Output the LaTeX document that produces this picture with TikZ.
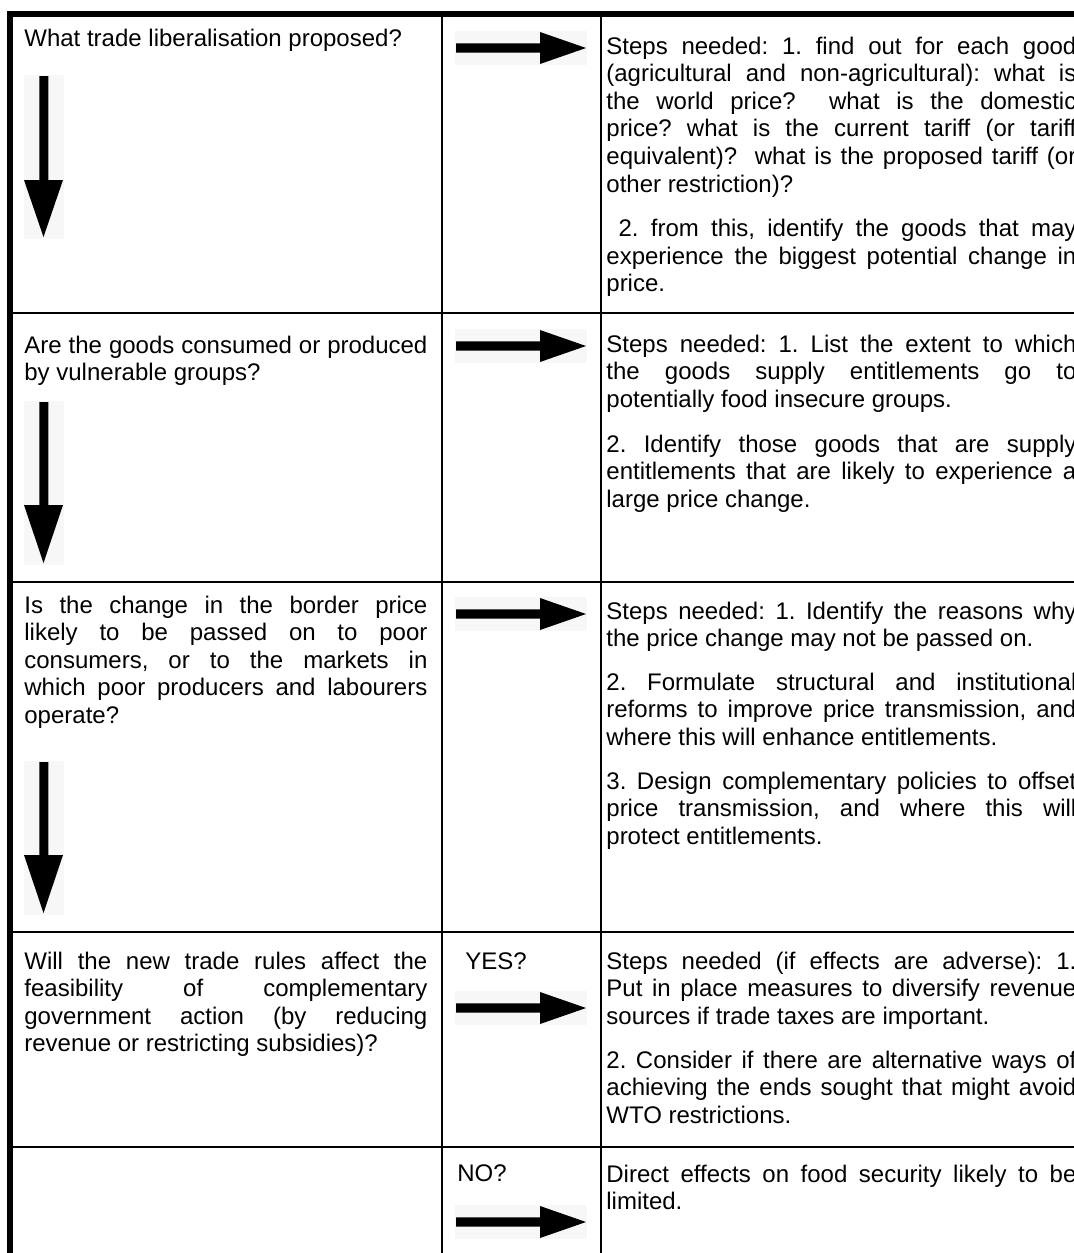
\documentclass[tikz,border=0pt]{standalone}
\usepackage{fontspec}
\setmainfont{Liberation Sans}
\newcommand\jl[1]{\makebox[\linewidth][s]{#1}\par}
\newcommand\lastline[1]{#1\par}
\newcommand\colA[1]{\begin{minipage}[t]{201.5pt}#1\end{minipage}}
\newcommand\colC[1]{\begin{minipage}[t]{235pt}#1\end{minipage}}
\begin{document}
\begin{tikzpicture}[x=0.5pt,y=-0.5pt,
  txt/.style={inner sep=0pt, anchor=base west, font=\fontsize{12}{13.8}\selectfont\frenchspacing},
  border/.style={line width=3pt, line join=miter},
  rule/.style={line width=1pt},
  arrbg/.style={fill=black!3},
  harrow/.pic={
    \fill[arrbg] (-66,-17) rectangle (66,17);
    \fill[black] (-65,-4.7) -- (19,-4.7) -- (19,-16) -- (65,0) -- (19,16) -- (19,4.7) -- (-65,4.7) -- cycle;
  }]
\newcommand\dnarr[3]{%
  \fill[arrbg] (23.5,#1-1) rectangle (63.5,#3+2);
  \fill[black] (39.3,#1) -- (48.3,#1) -- (48.3,#2) -- (63,#2) -- (43.5,#3) -- (24,#2) -- (39.3,#2) -- cycle;}
\useasboundingbox (0,0) rectangle (1074,1253);
\clip (0,0) rectangle (1074,1253);
\fill[white] (0,0) rectangle (1074,1253);

% table rules
\draw[rule] (10,313) -- (1074,313);
\draw[rule] (10,582) -- (1074,582);
\draw[rule] (10,932) -- (1074,932);
\draw[rule] (10,1147) -- (1074,1147);
\draw[rule] (442,14) -- (442,1253);
\draw[rule] (601,14) -- (601,1253);
\draw[border] (10.3,1260) -- (10.3,13.8) -- (1080,13.8);

% down arrows in first column
\dnarr{76}{180}{237}
\dnarr{402}{505}{563}
\dnarr{762}{855}{913}

% right arrows in middle column
\pic (h1) at (521,48) {harrow};
\pic (h2) at (521,346) {harrow};
\pic (h3) at (521,614) {harrow};
\pic (h4) at (521,1008) {harrow};
\pic (h5) at (521,1222) {harrow};

% row 1
\node[txt] (q1) at (24,46) {\colA{\lastline{What trade liberalisation proposed?}}};
\node[txt] (s1a) at (606,54) {\colC{%
\jl{Steps needed: 1. find out for each good}
\jl{(agricultural and non-agricultural): what is}
\jl{the world price?\ \ what is the domestic}
\jl{price? what is the current tariff (or tariff}
\jl{equivalent)?\ \ what is the proposed tariff (or}
\lastline{other restriction)?}}};
\node[txt] (s1b) at (606,236.5) {\colC{%
\jl{\ 2. from this, identify the goods that may}
\jl{experience the biggest potential change in}
\lastline{price.}}};

% row 2
\node[txt] (q2) at (24,353) {\colA{%
\jl{Are the goods consumed or produced}
\lastline{by vulnerable groups?}}};
\node[txt] (s2a) at (606,352) {\colC{%
\jl{Steps needed: 1. List the extent to which}
\jl{the goods supply entitlements go to}
\lastline{potentially food insecure groups.}}};
\node[txt] (s2b) at (606,452) {\colC{%
\jl{2. Identify those goods that are supply}
\jl{entitlements that are likely to experience a}
\lastline{large price change.}}};

% row 3
\node[txt] (q3) at (24,613) {\colA{%
\jl{Is the change in the border price}
\jl{likely to be passed on to poor}
\jl{consumers, or to the markets in}
\jl{which poor producers and labourers}
\lastline{operate?}}};
\node[txt] (s3a) at (606,619) {\colC{%
\jl{Steps needed: 1. Identify the reasons why}
\lastline{the price change may not be passed on.}}};
\node[txt] (s3b) at (606,690) {\colC{%
\jl{2. Formulate structural and institutional}
\jl{reforms to improve price transmission, and}
\lastline{where this will enhance entitlements.}}};
\node[txt] (s3c) at (606,789) {\colC{%
\jl{3. Design complementary policies to offset}
\jl{price transmission, and where this will}
\lastline{protect entitlements.}}};

% row 4
\node[txt] (q4) at (24,969) {\colA{%
\jl{Will the new trade rules affect the}
\jl{feasibility of complementary}
\jl{government action (by reducing}
\lastline{revenue or restricting subsidies)?}}};
\node[txt] (yes) at (465,969) {YES?};
\node[txt] (s4a) at (606,969) {\colC{%
\jl{Steps needed (if effects are adverse): 1.}
\jl{Put in place measures to diversify revenue}
\lastline{sources if trade taxes are important.}}};
\node[txt] (s4b) at (606,1068) {\colC{%
\jl{2. Consider if there are alternative ways of}
\jl{achieving the ends sought that might avoid}
\lastline{WTO restrictions.}}};

% row 5
\node[txt] (no) at (457,1181) {NO?};
\node[txt] (s5) at (606,1182) {\colC{%
\jl{Direct effects on food security likely to be}
\lastline{limited.}}};
\end{tikzpicture}
\end{document}
